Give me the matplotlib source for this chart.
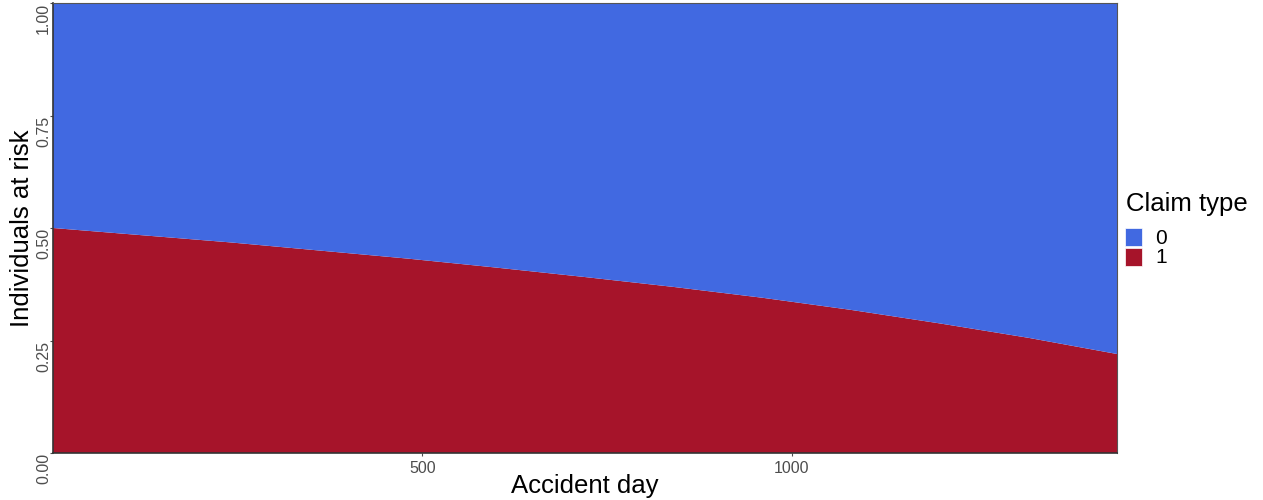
import matplotlib
matplotlib.use("Agg")
import matplotlib.pyplot as plt
from matplotlib.patches import Rectangle

plt.rcParams['font.family'] = ['Liberation Sans', 'DejaVu Sans']

# share of individuals at risk by claim type
accident_day = [0, 120, 240, 360, 480, 600, 720, 840, 960, 1080, 1200, 1320, 1440]
share_type1 = [0.500, 0.484, 0.468, 0.450, 0.432, 0.412, 0.391, 0.369, 0.345,
               0.318, 0.288, 0.256, 0.220]
share_type0 = [1 - v for v in share_type1]

claim_types = ['0', '1']
colors = {'0': '#4169E1', '1': '#A6142A'}

y_ticks = [0.0, 0.25, 0.5, 0.75, 1.0]
x_ticks = [500, 1000]

W, H = 1263, 500
fig = plt.figure(figsize=(12.63, 5), dpi=100)
ax = fig.add_axes([53 / W, 47 / H, (1117 - 53) / W, 450 / H])

ax.stackplot(accident_day, share_type1, share_type0,
             colors=[colors['1'], colors['0']], linewidth=0)

ax.set_xlim(0, 1440)
ax.set_ylim(0, 1)
ax.set_xticks(x_ticks)
ax.set_xticklabels([str(t) for t in x_ticks])
ax.set_yticks(y_ticks)
ax.set_yticklabels([f"{t:.2f}" for t in y_ticks])

ax.tick_params(axis='both', colors='#4D4D4D', labelsize=11.5, length=2.5, width=0.8)
ax.tick_params(axis='x', pad=3)
ax.tick_params(axis='y', pad=-1)
for lab in ax.get_yticklabels():
    lab.set_rotation(90)
    lab.set_va('top')
    lab.set_ha('right')

for side in ['left', 'bottom']:
    ax.spines[side].set_color('#333333')
    ax.spines[side].set_linewidth(1.2)
for side in ['top', 'right']:
    ax.spines[side].set_color('#555555')
    ax.spines[side].set_linewidth(0.8)

# axis titles placed in figure pixels to match the reference
fig.text(585 / W, 1 - 493 / H, 'Accident day', fontsize=18.5, ha='center', va='baseline')
fig.text(22 / W, 1 - 228 / H, 'Individuals at risk', fontsize=18.5, rotation=90,
         ha='center', va='center')

# legend drawn by hand to match ggplot placement
fig.text(1126 / W, 1 - 204 / H, 'Claim type', fontsize=18.5, va='center', ha='left')
key_top = 228
for i, ct in enumerate(claim_types):
    top = key_top + i * 19.5
    fig.add_artist(Rectangle((1125 / W, 1 - (top + 18) / H), 17 / W, 18 / H,
                             transform=fig.transFigure, facecolor=colors[ct],
                             edgecolor='white', linewidth=0.5))
    fig.text(1155 / W, 1 - (top + 10) / H, ct, fontsize=15, va='center', ha='left')

fig.savefig('out.png', dpi=100)
